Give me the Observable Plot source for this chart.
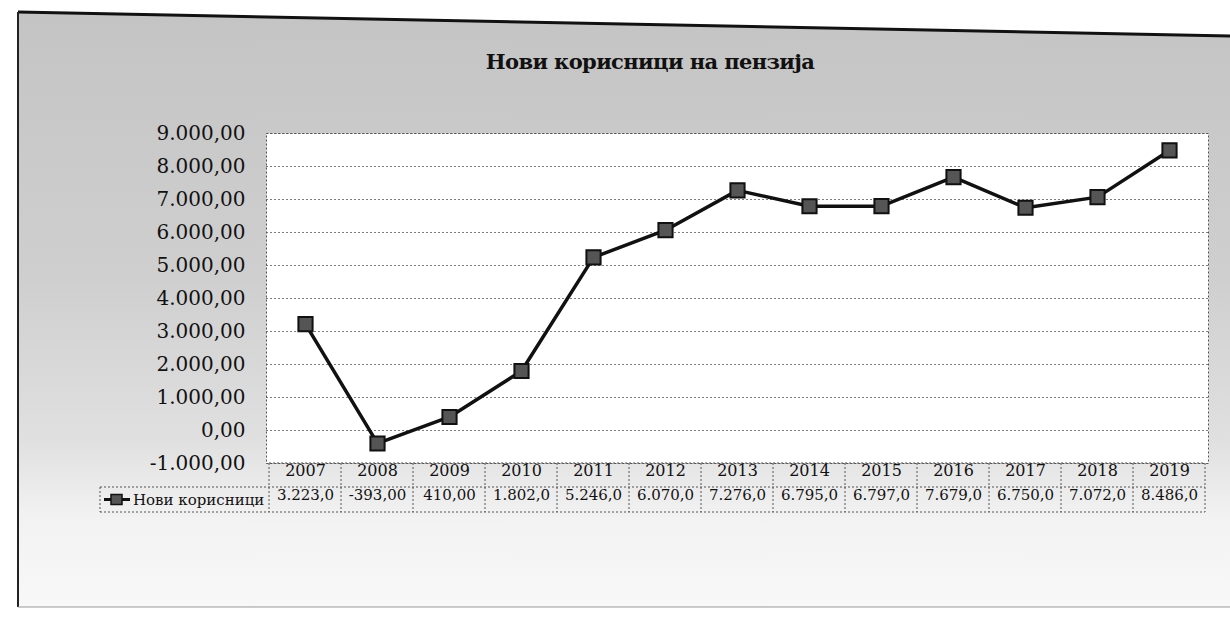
<!DOCTYPE html>
<html>
<head>
<meta charset="utf-8">
<script src="https://cdn.jsdelivr.net/npm/d3@7"></script>
<script src="https://cdn.jsdelivr.net/npm/@observablehq/plot@0.6"></script>
<style>
  html, body { margin: 0; padding: 0; background: #ffffff; width: 1230px; height: 631px; overflow: hidden; }
  #wrap { position: relative; width: 1230px; height: 631px; }
  #bg { position: absolute; left: 0; top: 0; }
  #title { position: absolute; left: 0; width: 1300px; top: 49px; text-align: center;
           font-family: "DejaVu Serif", serif; font-weight: bold; font-size: 21px; color: #111;
           letter-spacing: -0.6px; }
  #chart { position: absolute; left: 0; top: 0; }
</style>
</head>
<body>
<div id="wrap">
  <svg id="bg" width="1230" height="631">
    <defs>
      <linearGradient id="g" x1="0" y1="0" x2="0" y2="1">
        <stop offset="0" stop-color="#c4c4c4"/>
        <stop offset="0.45" stop-color="#cfcfcf"/>
        <stop offset="0.72" stop-color="#e0e0e0"/>
        <stop offset="0.85" stop-color="#f2f2f2"/>
        <stop offset="1" stop-color="#f8f8f8"/>
      </linearGradient>
    </defs>
    <polygon points="18,12 1230,36 1230,607 18,607" fill="url(#g)"/>
    <line x1="18" y1="12" x2="1230" y2="36" stroke="#111" stroke-width="3"/>
    <line x1="18" y1="12" x2="18" y2="607" stroke="#222" stroke-width="2"/>
    <line x1="18" y1="607" x2="1230" y2="607" stroke="#999" stroke-width="1"/>
  </svg>
  <div id="title"></div>
  <div id="chart"></div>
</div>
<script>
// ---- data ----
const years = ["2007","2008","2009","2010","2011","2012","2013","2014","2015","2016","2017","2018","2019"];
const values = [3223, -393, 410, 1802, 5246, 6070, 7276, 6795, 6797, 7679, 6750, 7072, 8486];
const tableLabels = ["3.223,0","-393,00","410,00","1.802,0","5.246,0","6.070,0","7.276,0","6.795,0","6.797,0","7.679,0","6.750,0","7.072,0","8.486,0"];
const yTicks = [-1000, 0, 1000, 2000, 3000, 4000, 5000, 6000, 7000, 8000, 9000];
const seriesName = "Нови корисници";
const chartTitle = "Нови корисници на пензија";

const data = years.map((y, i) => ({ year: y, value: values[i], label: tableLabels[i] }));
const loc = d3.formatLocale({ decimal: ",", thousands: ".", grouping: [3], currency: ["", ""], minus: "-" });
const fmt = loc.format(",.2f");

document.getElementById("title").textContent = chartTitle;

const plot = Plot.plot({
  width: 1230,
  height: 631,
  marginLeft: 266,
  marginRight: 22,
  marginTop: 133,
  marginBottom: 168,
  style: { background: "transparent", fontFamily: "DejaVu Serif", fontSize: "19px", color: "#111", overflow: "visible" },
  x: { type: "band", domain: years, padding: 0, axis: null },
  y: { domain: [-1000, 9000], axis: null },
  marks: [
    Plot.frame({ fill: "white" }),
    Plot.gridY(yTicks, { stroke: "#666", strokeOpacity: 0.85, strokeDasharray: "2,2", strokeWidth: 1 }),
    Plot.frame({ stroke: "#555", strokeDasharray: "2,2" }),
    Plot.axisY(yTicks, { tickFormat: fmt, tickSize: 0, tickPadding: 21, label: null, fontSize: 20, fill: "#111" }),
    Plot.line(data, { x: "year", y: "value", stroke: "#111", strokeWidth: 3.5 }),
    Plot.dot(data, { x: "year", y: "value", symbol: "square", r: 8, fill: "#555", stroke: "#111", strokeWidth: 2 }),
    Plot.text(data, { x: "year", text: "year", frameAnchor: "bottom", dy: 12, fontSize: 16, fill: "#111" }),
    Plot.text(data, { x: "year", text: "label", frameAnchor: "bottom", dy: 36, fontSize: 15, fill: "#111", letterSpacing: -0.3 })
  ]
});
document.getElementById("chart").appendChild(plot);

// ---- data table borders and legend key, placed from the x scale ----
const sx = plot.scale("x");
const sy = plot.scale("y");
const bw = sx.bandwidth;
const x0 = sx.apply(years[0]);
const x1 = sx.apply(years[years.length - 1]) + bw;
const yTop = sy.apply(-1000);
const yMid = yTop + 24;
const yBot = yTop + 49;
const legendLeft = 100;
const svg = d3.select(plot);
const g = svg.append("g").attr("stroke", "#555").attr("stroke-dasharray", "2,2").attr("stroke-width", 1).attr("fill", "none");
g.append("line").attr("x1", x0).attr("x2", x1).attr("y1", yTop).attr("y2", yTop);
g.append("line").attr("x1", legendLeft).attr("x2", x1).attr("y1", yMid).attr("y2", yMid);
g.append("line").attr("x1", legendLeft).attr("x2", x1).attr("y1", yBot).attr("y2", yBot);
g.append("line").attr("x1", legendLeft).attr("x2", legendLeft).attr("y1", yMid).attr("y2", yBot);
years.forEach((y) => {
  const xs = sx.apply(y);
  g.append("line").attr("x1", xs).attr("x2", xs).attr("y1", yTop).attr("y2", yBot);
});
g.append("line").attr("x1", x1).attr("x2", x1).attr("y1", yTop).attr("y2", yBot);

const yRow = (yMid + yBot) / 2;
const key = svg.append("g");
key.append("line").attr("x1", legendLeft + 4).attr("x2", legendLeft + 30).attr("y1", yRow).attr("y2", yRow)
  .attr("stroke", "#111").attr("stroke-width", 3);
key.append("rect").attr("x", legendLeft + 11).attr("y", yRow - 5).attr("width", 11).attr("height", 10)
  .attr("fill", "#555").attr("stroke", "#111").attr("stroke-width", 1.5);
key.append("text").attr("x", legendLeft + 33).attr("y", yRow).attr("dy", "0.35em")
  .attr("text-anchor", "start")
  .attr("font-family", "DejaVu Serif").attr("font-size", 15).attr("fill", "#111").text(seriesName);
</script>
</body>
</html>
